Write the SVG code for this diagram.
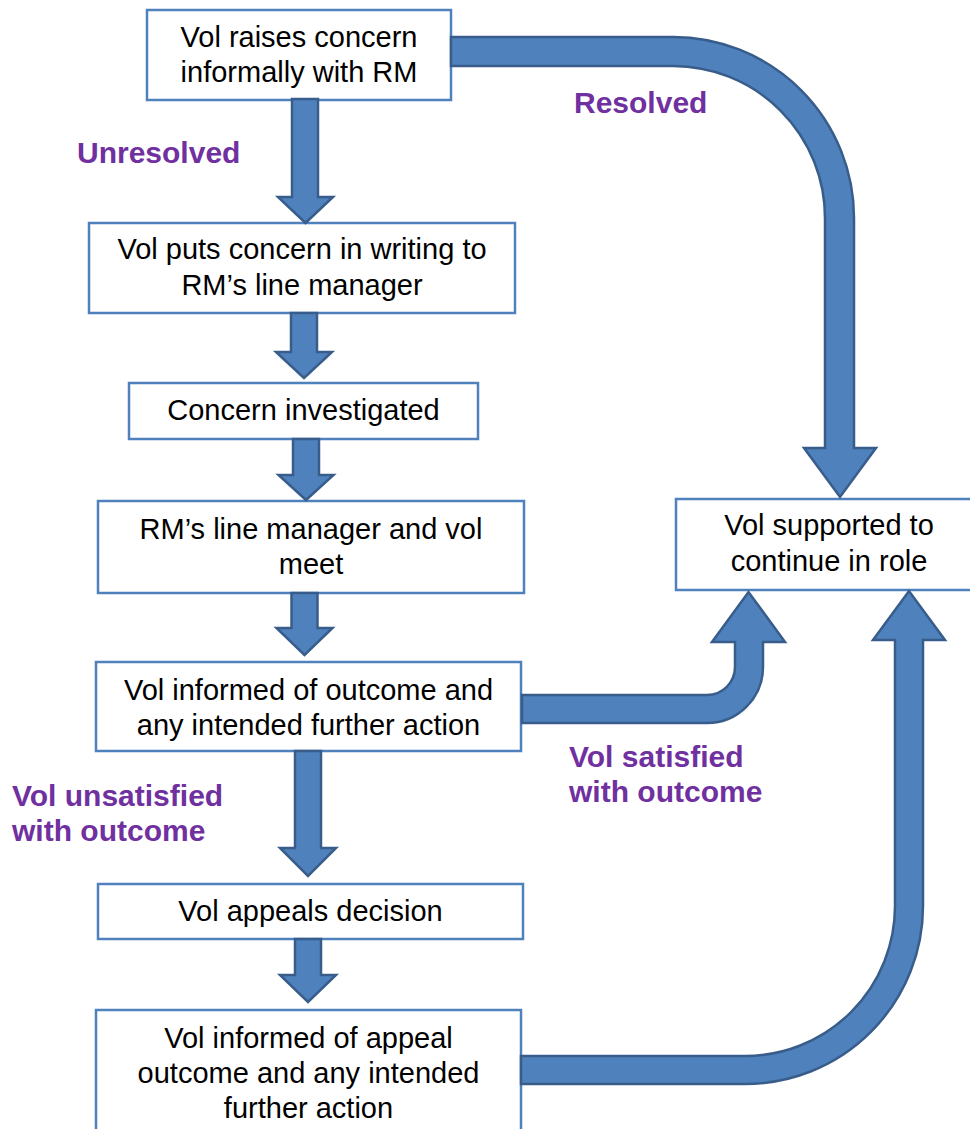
<svg xmlns="http://www.w3.org/2000/svg" width="970" height="1129" viewBox="0 0 970 1129">
<style>
.box{fill:#ffffff;stroke:#4F81BD;stroke-width:2.5}
.t{font-family:"Liberation Sans",Arial,sans-serif;font-size:29px;fill:#000000;text-anchor:middle}
.lbl{font-family:"Liberation Sans",Arial,sans-serif;font-size:30px;font-weight:bold;fill:#7030A0}
.arr{fill:#4F81BD;stroke:#385D8A;stroke-width:2.5;stroke-linejoin:miter}
</style>
<rect width="970" height="1129" fill="#ffffff"/>
<g id="n1"><rect class="box" x="147" y="10" width="304" height="90"/><text class="t" x="299" y="47">Vol raises concern</text><text class="t" x="299" y="82">informally with RM</text></g>
<g id="n2"><rect class="box" x="89" y="223" width="426" height="90"/><text class="t" x="302" y="259">Vol puts concern in writing to</text><text class="t" x="302" y="295">RM’s line manager</text></g>
<g id="n3"><rect class="box" x="129" y="383" width="349" height="56"/><text class="t" x="303.5" y="420">Concern investigated</text></g>
<g id="n4"><rect class="box" x="98" y="501" width="426" height="92"/><text class="t" x="311" y="539">RM’s line manager and vol</text><text class="t" x="311" y="574">meet</text></g>
<g id="n5"><rect class="box" x="96" y="662" width="425" height="89"/><text class="t" x="308.5" y="700">Vol informed of outcome and</text><text class="t" x="308.5" y="735">any intended further action</text></g>
<g id="n6"><rect class="box" x="98" y="884" width="425" height="55"/><text class="t" x="310.5" y="921">Vol appeals decision</text></g>
<g id="n7"><rect class="box" x="96" y="1010" width="425" height="130"/><text class="t" x="308.5" y="1048">Vol informed of appeal</text><text class="t" x="308.5" y="1083">outcome and any intended</text><text class="t" x="308.5" y="1118">further action</text></g>
<g id="n8"><rect class="box" x="676" y="499" width="310" height="91"/><text class="t" x="829" y="535">Vol supported to</text><text class="t" x="829" y="571">continue in role</text></g>
<g id="connectors">
<path class="arr" d="M292,99 H318 V197 H333 L305.5,223 L278,197 H292 Z"/>
<path class="arr" d="M291,313 H317 V352 H332 L304,378 L276,352 H291 Z"/>
<path class="arr" d="M293,439 H319 V475 H333.5 L306,500 L278.5,475 H293 Z"/>
<path class="arr" d="M291.5,593 H317.5 V628 H332.5 L304.5,655 L276.5,628 H291.5 Z"/>
<path class="arr" d="M295,751 H321 V848 H336 L308,876 L280,848 H295 Z"/>
<path class="arr" d="M295,939 H321 V975 H336 L308,1002 L280,975 H295 Z"/>
<path class="arr" d="M451,37 H673 A181,181 0 0 1 854,218 V448 H876 L840,497 L804,448 H825 V218 A152,152 0 0 0 673,66 H451 Z"/>
<path class="arr" d="M522,695 H707 A28,28 0 0 0 735,667 V642 H712 L748.5,592 L785,642 H763 V667 A56,56 0 0 1 707,723 H522 Z"/>
<path class="arr" d="M521,1056 H745 A150,150 0 0 0 895,906 V640 H873 L909,591 L945,640 H923 V906 A178,178 0 0 1 745,1084 H521 Z"/>
</g>
<g id="labels">
<text class="lbl" x="77" y="163">Unresolved</text>
<text class="lbl" x="574" y="113">Resolved</text>
<text class="lbl" x="12" y="806">Vol unsatisfied</text>
<text class="lbl" x="12" y="841">with outcome</text>
<text class="lbl" x="569" y="767">Vol satisfied</text>
<text class="lbl" x="569" y="802">with outcome</text>
</g>
</svg>
